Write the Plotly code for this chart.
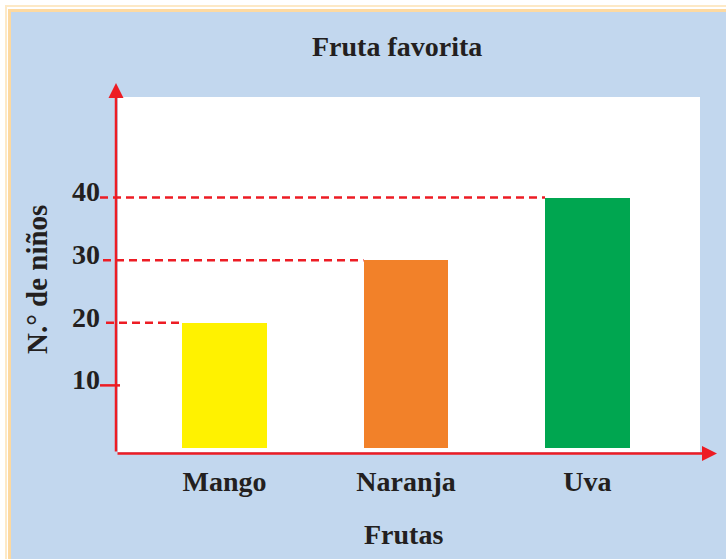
import plotly.graph_objects as go

# ---- data ----
categories = ["Mango", "Naranja", "Uva"]
values = [20, 30, 40]
bar_colors = ["#fff200", "#f28129", "#00a650"]
y_ticks = [10, 20, 30, 40]
title_text = "Fruta favorita"
x_title = "Frutas"
y_title = "N.° de niños"

# ---- layout constants ----
W, H = 726, 559
ML, MR, MT, MB = 118, 26, 97, 107
PW, PH = W - ML - MR, H - MT - MB
RED = "#ed1c24"
TXT = "#231f20"
BLUE = "#c2d7ee"
FONT = "Liberation Serif"
BAR_W = 0.468
X_RANGE = [-0.587, 2.62]
Y_RANGE = [-0.64, 56.05]


def px_x(p):
    return (p - ML) / PW


def px_y(p):
    return (H - MB - p) / PH


def data_to_paper_x(v):
    return (v - X_RANGE[0]) / (X_RANGE[1] - X_RANGE[0])


fig = go.Figure()
fig.add_trace(go.Bar(
    x=list(range(len(categories))), y=values, width=BAR_W,
    marker=dict(color=bar_colors, line=dict(width=0)),
    hoverinfo="skip", showlegend=False,
))

shapes = []
# background frame (paper-referenced, below the plot)
frame = [("#fde9c6", 5, 5), ("#ffffff", 7, 7), ("#fdd9a0", 8, 9), (BLUE, 11, 12)]
for col, x0, y0 in frame:
    shapes.append(dict(type="rect", xref="paper", yref="paper", layer="below",
                       x0=px_x(x0), x1=px_x(W + 20), y0=px_y(y0), y1=px_y(H + 20),
                       fillcolor=col, line=dict(width=0)))
# white plotting area
shapes.append(dict(type="rect", xref="paper", yref="paper", layer="below",
                   x0=0, x1=1, y0=0, y1=1, fillcolor="white", line=dict(width=0)))

# dashed guide lines from the y axis to the bars
start_px = [106, 103, 100]
for i, v in enumerate(values):
    shapes.append(dict(type="line", xref="paper", yref="y", layer="above",
                       x0=px_x(start_px[i]), x1=data_to_paper_x(i - BAR_W / 2), y0=v, y1=v,
                       line=dict(color=RED, width=2.5, dash="8px,5px")))
# solid tick for the ticks without guide
for t in y_ticks:
    if t not in values:
        shapes.append(dict(type="line", xref="paper", yref="y", layer="above",
                           x0=px_x(100), x1=px_x(120), y0=t, y1=t,
                           line=dict(color=RED, width=2.5)))

annotations = [
    # axes with arrows
    dict(xref="paper", yref="paper", x=px_x(116), y=px_y(83), ax=0, ay=370,
         text="", showarrow=True, arrowhead=2, arrowsize=1.2, arrowwidth=2.5,
         arrowcolor=RED, standoff=0),
    dict(xref="paper", yref="paper", x=px_x(717), y=px_y(453.5), ax=-601, ay=0,
         text="", showarrow=True, arrowhead=2, arrowsize=1.2, arrowwidth=2.5,
         arrowcolor=RED, standoff=0),
    dict(xref="paper", yref="paper", x=px_x(397), y=px_y(47), text="<b>%s</b>" % title_text,
         showarrow=False, xanchor="center", yanchor="middle",
         font=dict(family=FONT, size=28, color=TXT)),
    dict(xref="paper", yref="paper", x=px_x(403), y=px_y(534), text="<b>%s</b>" % x_title,
         showarrow=False, xanchor="center", yanchor="middle",
         font=dict(family=FONT, size=28, color=TXT)),
    dict(xref="paper", yref="paper", x=px_x(37), y=px_y(280), text="<b>%s</b>" % y_title,
         showarrow=False, xanchor="center", yanchor="middle", textangle=-90,
         font=dict(family=FONT, size=29, color=TXT)),
]

fig.update_layout(
    width=W, height=H,
    margin=dict(l=ML, r=MR, t=MT, b=MB, pad=0),
    paper_bgcolor="white", plot_bgcolor="white",
    shapes=shapes, annotations=annotations,
    xaxis=dict(range=X_RANGE, tickmode="array", tickvals=list(range(len(categories))),
               ticktext=["<b>%s</b>" % c for c in categories], showgrid=False,
               zeroline=False, showline=False, ticks="", ticklabelstandoff=10,
               tickfont=dict(family=FONT, size=28, color=TXT), fixedrange=True),
    yaxis=dict(range=Y_RANGE, tickmode="array", tickvals=y_ticks,
               ticktext=["<b>%d</b>" % t for t in y_ticks], showgrid=False,
               zeroline=False, showline=False, ticks="", ticklabelstandoff=17,
               ticklabelshift=-6,
               tickfont=dict(family=FONT, size=28, color=TXT), fixedrange=True),
    bargap=0,
)

fig.write_html("out.html", config={"displayModeBar": False},
               post_script="document.body.style.margin='0';")
